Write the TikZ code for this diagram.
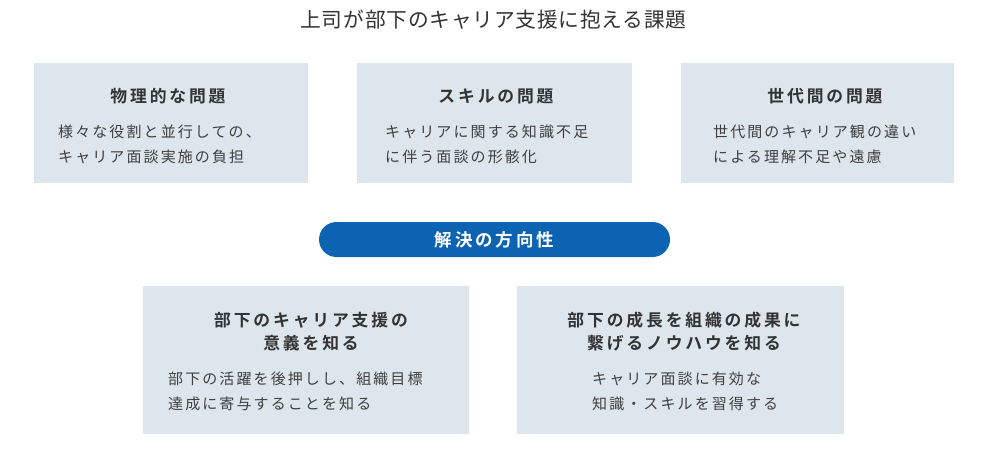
\documentclass[tikz,border=0pt]{standalone}
\usepackage{fontspec}
\setmainfont{Noto Sans CJK JP}
\newfontfamily\jptitle[LetterSpace=4]{Noto Sans CJK JP}
\newfontfamily\jpbody[LetterSpace=14]{Noto Sans CJK JP}
\newfontfamily\jphead[LetterSpace=17]{Noto Sans CJK JP Bold}
\definecolor{boxfill}{HTML}{DDE6EC}
\definecolor{pillblue}{HTML}{0B63B2}
\definecolor{txtdark}{HTML}{333333}
\definecolor{txtbody}{HTML}{3F3F3F}
\tikzset{
  panel/.style={fill=boxfill, draw=none, inner sep=0pt},
  headtext/.style={inner sep=0pt, text=txtdark, align=center, font={\jphead\fontsize{16.8}{23}\selectfont}},
  bodytext/.style={inner sep=0pt, text=txtbody, align=left, anchor=west, font={\jpbody\fontsize{15}{25}\selectfont}},
  titletext/.style={inner sep=0pt, text=txtdark, font={\jptitle\fontsize{20.7}{24}\selectfont}},
  pill/.style={fill=pillblue, draw=none, rounded corners=17.5pt, inner sep=0pt, text=white, font={\jphead\fontsize{17.5}{20}\selectfont}}
}
\begin{document}
\begin{tikzpicture}[x=1pt,y=-1pt]
\useasboundingbox[fill=white] (0,0) rectangle (983,461);
% title
\node[titletext] (title) at (493.5,20) {上司が部下のキャリア支援に抱える課題};
% top panels
\node[panel, minimum width=274pt, minimum height=120pt] (p1) at (171,123) {};
\node[panel, minimum width=275pt, minimum height=120pt] (p2) at (494.5,123) {};
\node[panel, minimum width=273pt, minimum height=120pt] (p3) at (817.5,123) {};
\node[headtext] (h1) at (168,96) {物理的な問題};
\node[headtext] (h2) at (496,96) {スキルの問題};
\node[headtext] (h3) at (825,96) {世代間の問題};
\node[bodytext] (t1) at (58,144.5) {様々な役割と並行しての、\\キャリア面談実施の負担};
\node[bodytext] (t2) at (385,144.5) {キャリアに関する知識不足\\に伴う面談の形骸化};
\node[bodytext] (t3) at (713,144.5) {世代間のキャリア観の違い\\による理解不足や遠慮};
% pill
\node[pill, minimum width=351pt, minimum height=35pt] (sol) at (494.5,239.5) {解決の方向性};
% bottom panels
\node[panel, minimum width=326pt, minimum height=148pt] (p4) at (306,360) {};
\node[panel, minimum width=327pt, minimum height=148pt] (p5) at (680.5,360) {};
\node[headtext] (h4) at (311,331.5) {部下のキャリア支援の\\意義を知る};
\node[headtext] (h5) at (684,331.5) {部下の成長を組織の成果に\\繋げるノウハウを知る};
\node[bodytext] (t4) at (168,391.5) {部下の活躍を後押しし、組織目標\\達成に寄与することを知る};
\node[bodytext] (t5) at (592,391.5) {キャリア面談に有効な\\知識・スキルを習得する};
\end{tikzpicture}
\end{document}
